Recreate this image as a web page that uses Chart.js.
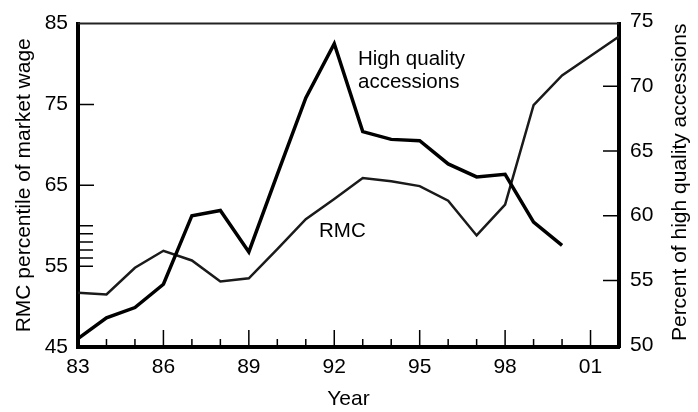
<!DOCTYPE html>
<html>
<head>
<meta charset="utf-8">
<script src="https://cdn.jsdelivr.net/npm/chart.js@4.4.1/dist/chart.umd.min.js"></script>
<style>
body { margin: 0; background: #fff; }
</style>
</head>
<body>
<canvas id="grafico" width="698" height="412"></canvas>
<script>
// años (83 = 1983 ... 102 = 2002)
const anios = [83, 84, 85, 86, 87, 88, 89, 90, 91, 92, 93, 94, 95, 96, 97, 98, 99, 100, 101, 102];
// RMC percentil del salario de mercado (eje izquierdo)
const rmc = [51.7, 51.5, 54.8, 56.9, 55.7, 53.1, 53.5, 57.1, 60.8, 63.3, 65.9, 65.5, 64.9, 63.1, 58.8, 62.6, 74.9, 78.6, 81.0, 83.4];
// porcentaje de reclutas de alta calidad (eje derecho), termina en 2000
const altaCalidad = [50.5, 52.1, 52.9, 54.7, 60.0, 60.4, 57.2, 63.2, 69.1, 73.3, 66.5, 65.9, 65.8, 64.0, 63.0, 63.2, 59.5, 57.7];
const ticksAnio = [83, 86, 89, 92, 95, 98, 101];
const ticksIzq = [45, 55, 65, 75, 85];
const ticksDer = [50, 55, 60, 65, 70, 75];

const fuente = '"Liberation Sans", Arial, Helvetica, sans-serif';

const puntos = (ys) => ys.map((y, i) => ({ x: anios[i], y: y }));

// marcas hacia adentro y textos sobre el gráfico
const marcasPlugin = {
    id: 'marcas',
    beforeDatasetsDraw(chart) {
        const ctx = chart.ctx;
        const x = chart.scales.x;
        const yi = chart.scales.yIzq;
        const yd = chart.scales.yDer;
        ctx.save();
        ctx.strokeStyle = '#000';
        ctx.lineWidth = 1.5;
        ctx.beginPath();
        for (let a = 84; a <= 101; a++) {
            const px = x.getPixelForValue(a);
            const largo = (a - 83) % 3 === 0 ? 17 : 8;
            ctx.moveTo(px, x.top);
            ctx.lineTo(px, x.top - largo);
        }
        [55, 56, 57, 58, 59, 60].forEach(v => {
            const py = yi.getPixelForValue(v);
            ctx.moveTo(yi.right, py);
            ctx.lineTo(yi.right + 15, py);
        });
        [65, 75].forEach(v => {
            const py = yi.getPixelForValue(v);
            ctx.moveTo(yi.right, py);
            ctx.lineTo(yi.right + 16, py);
        });
        [55, 60, 65, 70].forEach(v => {
            const py = yd.getPixelForValue(v);
            ctx.moveTo(yd.left, py);
            ctx.lineTo(yd.left - 16, py);
        });
        ctx.stroke();
        // linea superior del marco
        const area = chart.chartArea;
        ctx.lineWidth = 2;
        ctx.strokeStyle = '#222';
        ctx.beginPath();
        ctx.moveTo(area.left, area.top);
        ctx.lineTo(area.right, area.top);
        ctx.stroke();
        ctx.restore();
    },
    afterDraw(chart) {
        const ctx = chart.ctx;
        const area = chart.chartArea;
        ctx.save();
        ctx.fillStyle = '#000';
        ctx.font = '20.5px ' + fuente;
        ctx.textAlign = 'left';
        ctx.textBaseline = 'alphabetic';
        ctx.fillText('High quality', 358, 65);
        ctx.fillText('accessions', 358, 88);
        ctx.fillText('RMC', 319, 237);
        // título del eje derecho, leído de abajo hacia arriba
        ctx.font = '21px ' + fuente;
        ctx.textAlign = 'center';
        ctx.textBaseline = 'middle';
        ctx.translate(680, (area.top + area.bottom) / 2 - 3);
        ctx.rotate(-Math.PI / 2);
        ctx.fillText('Percent of high quality accessions', 0, 0);
        ctx.restore();
    }
};

const ctx = document.getElementById('grafico').getContext('2d');
new Chart(ctx, {
    type: 'line',
    data: {
        datasets: [{
            label: 'High quality accessions',
            data: puntos(altaCalidad),
            yAxisID: 'yDer',
            borderColor: '#000',
            borderWidth: 3.5,
            pointRadius: 0,
            tension: 0,
            fill: false
        }, {
            label: 'RMC',
            data: puntos(rmc),
            yAxisID: 'yIzq',
            borderColor: '#1a1a1a',
            borderWidth: 2.5,
            pointRadius: 0,
            tension: 0,
            fill: false
        }]
    },
    options: {
        responsive: false,
        animation: false,
        layout: { padding: { top: 17, left: 0, right: 0, bottom: 0 } },
        plugins: {
            legend: { display: false },
            tooltip: { enabled: false }
        },
        scales: {
            x: {
                type: 'linear',
                min: 83,
                max: 102,
                afterBuildTicks: (s) => { s.ticks = ticksAnio.map(v => ({ value: v })); },
                afterFit: (s) => { s.height = 65; },
                grid: { drawOnChartArea: false, drawTicks: false },
                border: { display: true, color: '#000', width: 4 },
                ticks: {
                    color: '#000',
                    padding: 8,
                    maxRotation: 0,
                    autoSkip: false,
                    font: { family: fuente, size: 21 },
                    callback: (v) => String(v % 100).padStart(2, '0')
                },
                title: {
                    display: true,
                    text: 'Year',
                    color: '#000',
                    padding: { top: 0, bottom: 0 },
                    font: { family: fuente, size: 21 }
                }
            },
            yIzq: {
                type: 'linear',
                position: 'left',
                min: 45,
                max: 85,
                afterBuildTicks: (s) => { s.ticks = ticksIzq.map(v => ({ value: v })); },
                afterFit: (s) => { s.width = 78; },
                grid: { drawOnChartArea: false, drawTicks: false },
                border: { display: true, color: '#000', width: 4 },
                ticks: {
                    color: '#000',
                    padding: 10,
                    font: { family: fuente, size: 21 }
                },
                title: {
                    display: true,
                    text: 'RMC percentile of market wage',
                    color: '#000',
                    padding: { top: 12, bottom: 0 },
                    font: { family: fuente, size: 21 }
                }
            },
            yDer: {
                type: 'linear',
                position: 'right',
                min: 49.85,
                max: 74.85,
                afterBuildTicks: (s) => { s.ticks = ticksDer.map(v => ({ value: v })); },
                afterFit: (s) => { s.width = 79; },
                grid: { drawOnChartArea: false, drawTicks: false },
                border: { display: true, color: '#000', width: 4 },
                ticks: {
                    color: '#000',
                    padding: 11,
                    font: { family: fuente, size: 21 }
                },
                title: { display: false }
            }
        }
    },
    plugins: [marcasPlugin]
});
</script>
</body>
</html>
